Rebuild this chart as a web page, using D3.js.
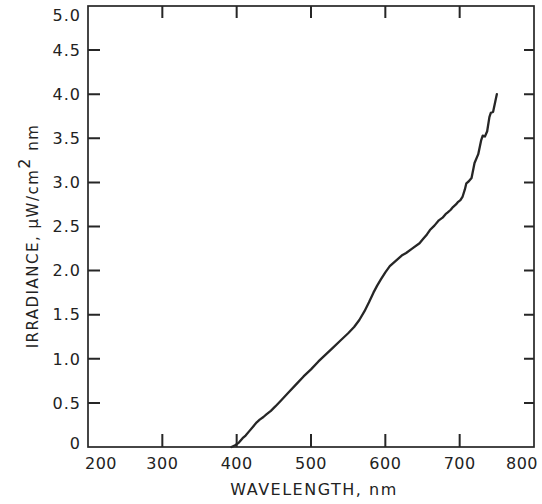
<!DOCTYPE html>
<html><head><meta charset="utf-8">
<script src="https://cdn.jsdelivr.net/npm/d3@7"></script>
<style>
html,body{margin:0;padding:0;background:#fff;}
svg{display:block;}
text{font-family:"DejaVu Sans",sans-serif;fill:#222;}
</style></head>
<body><svg id="c" width="542" height="504"></svg>
<script>
const wavelength = [393,398,403,408,412,417,422,427,431,436,440,446,452,460,470,480,490,500,510,520,530,540,550,558,565,572,578,584,589,594,600,606,614,622,628,636,646,651,656,660,666,672,677,681,684,688,691,695,698,701,704,707,709,712,716,720,725,729,731,734,737,740,742,745,748,750];
const irradiance = [0.00,0.02,0.05,0.10,0.13,0.18,0.23,0.28,0.31,0.34,0.37,0.41,0.46,0.53,0.62,0.71,0.80,0.88,0.97,1.05,1.13,1.21,1.29,1.36,1.44,1.54,1.64,1.75,1.83,1.90,1.98,2.05,2.11,2.17,2.20,2.25,2.31,2.36,2.41,2.46,2.51,2.57,2.60,2.64,2.66,2.69,2.72,2.75,2.78,2.80,2.84,2.92,2.99,3.01,3.05,3.22,3.32,3.48,3.53,3.52,3.58,3.74,3.79,3.80,3.92,4.00];
const xTicks = [200,300,400,500,600,700,800];
const yTicks = [0,0.5,1.0,1.5,2.0,2.5,3.0,3.5,4.0,4.5,5.0];
const yTickLabels = ["0","0.5","1.0","1.5","2.0","2.5","3.0","3.5","4.0","4.5","5.0"];

const svg = d3.select("#c");
const L = 88, R = 534, T = 6, B = 447;
const x = d3.scaleLinear().domain([200,800]).range([L,R]);
const y = d3.scaleLinear().domain([0,5]).range([B,T]);
const ink = "#262626";

// frame
svg.append("rect").attr("x",L).attr("y",T).attr("width",R-L).attr("height",B-T)
  .attr("fill","none").attr("stroke",ink).attr("stroke-width",1.7);

// x tick labels
svg.append("g").selectAll("text").data(xTicks).join("text")
  .attr("x",(d,i)=> i===0 ? L-3 : (i===xTicks.length-1 ? R+4 : x(d)))
  .attr("y",469)
  .attr("text-anchor",(d,i)=> i===0 ? "start" : (i===xTicks.length-1 ? "end" : "middle"))
  .attr("font-size",16).style("letter-spacing","0.5px")
  .text(d=>d3.format("d")(d));

// y tick labels
svg.append("g").selectAll("text").data(yTicks).join("text")
  .attr("x",81).attr("y",d=>y(d))
  .attr("dy",d=> d===5 ? "0.95em" : (d===0 ? "0.15em" : "0.36em"))
  .attr("text-anchor","end").attr("font-size",16).style("letter-spacing","1px")
  .text((d,i)=>yTickLabels[i]);

// curve
const pts = wavelength.map((w,i)=>[w,irradiance[i]]);
svg.append("path").datum(pts)
  .attr("fill","none").attr("stroke",ink).attr("stroke-width",2.3)
  .attr("stroke-linejoin","round").attr("stroke-linecap","round")
  .attr("d",d3.line().x(d=>x(d[0])).y(d=>y(d[1])));

// tick marks, inward on all four sides
const innerX = xTicks.slice(1,-1);
const innerY = yTicks.slice(1,-1);
const tp = d3.path();
innerX.forEach(d=>{ tp.moveTo(x(d),B); tp.lineTo(x(d),B-13); });
innerX.forEach(d=>{ tp.moveTo(x(d),T); tp.lineTo(x(d),T+12); });
innerY.forEach(d=>{ tp.moveTo(L,y(d)); tp.lineTo(L+12,y(d)); });
innerY.forEach(d=>{ tp.moveTo(R,y(d)); tp.lineTo(R-10,y(d)); });
svg.append("path").attr("d",tp.toString())
  .attr("fill","none").attr("stroke",ink).attr("stroke-width",2);

// axis titles
svg.append("text").attr("x",(L+R)/2+3).attr("y",495).attr("text-anchor","middle")
  .attr("font-size",16).style("letter-spacing","1.5px")
  .text("WAVELENGTH, nm");

const yt = svg.append("text").attr("transform","translate(38,236) rotate(-90)")
  .attr("text-anchor","middle").attr("font-size",15).style("letter-spacing","1.5px");
yt.append("tspan").text("IRRADIANCE,  \u03BCW/cm");
yt.append("tspan").attr("dy",-8).attr("font-size",16).text("2");
yt.append("tspan").attr("dy",8).text(" nm");
</script></body></html>
